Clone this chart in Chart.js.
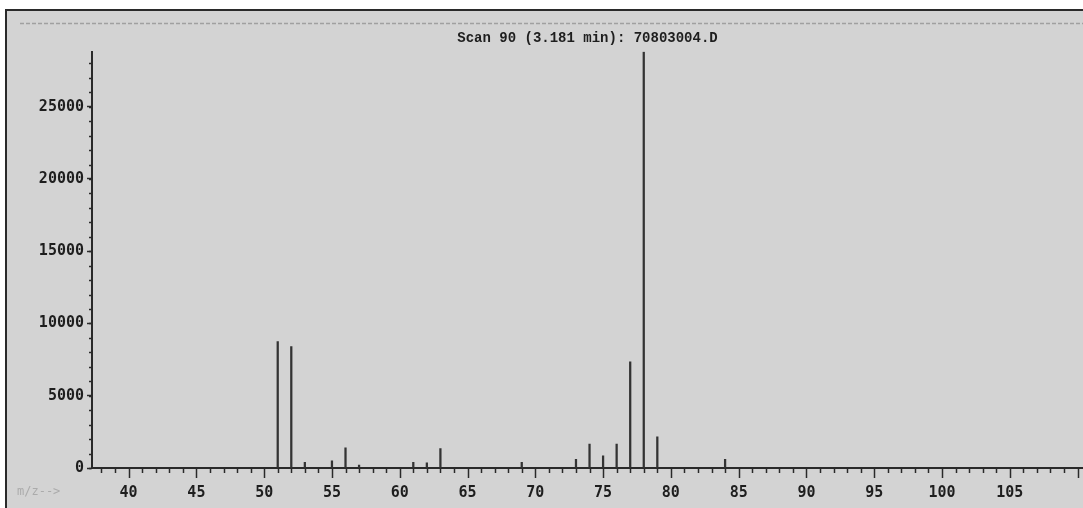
<!DOCTYPE html>
<html>
<head>
<meta charset="utf-8">
<title>Scan 90</title>
<script src="https://cdn.jsdelivr.net/npm/chart.js@4/dist/chart.umd.min.js"></script>
<style>
  html, body { margin: 0; padding: 0; background: #fff; }
  #wrap { width: 1083px; height: 508px; }
</style>
</head>
<body>
<div id="wrap"><canvas id="espectro"></canvas></div>
<script>
// Espectro de massas, scan 90

// m/z dos picos e abundancias
const mz = [51, 52, 53, 55, 56, 57, 61, 62, 63, 69, 73, 74, 75, 76, 77, 78, 79, 84];
const abundancia = [8750, 8400, 400, 500, 1400, 200, 400, 350, 1350, 400, 600, 1650, 850, 1650, 7350, 28800, 2150, 600];

// ticks com rotulo
const yTicks = [0, 5000, 10000, 15000, 20000, 25000];
const xTicks = [40, 45, 50, 55, 60, 65, 70, 75, 80, 85, 90, 95, 100, 105];

// limites dos eixos
const xMin = 37.3;
const xMax = 110.4;
const yMax = 28800;
const yMinorStep = 1000;
const xLabelStep = 5;

const titulo = 'Scan 90 (3.181 min): 70803004.D';

// fundo, moldura e marcas menores dos eixos
const moldura = {
    id: 'moldura',
    beforeDraw(chart) {
        const c = chart.ctx;
        c.save();
        c.fillStyle = '#ffffff';
        c.fillRect(0, 0, chart.width, chart.height);
        c.fillStyle = '#d3d3d3';
        c.fillRect(7, 11, chart.width - 7, chart.height - 11);
        c.strokeStyle = '#2a2a2a';
        c.lineWidth = 2;
        c.beginPath();
        c.moveTo(6, chart.height);
        c.lineTo(6, 10);
        c.lineTo(chart.width, 10);
        c.stroke();
        c.strokeStyle = '#a0a0a0';
        c.lineWidth = 1.5;
        c.setLineDash([4, 2]);
        c.beginPath();
        c.moveTo(20, 23.5);
        c.lineTo(chart.width, 23.5);
        c.stroke();
        c.setLineDash([]);
        c.fillStyle = '#ababab';
        c.font = '12px "DejaVu Sans Mono"';
        c.textBaseline = 'middle';
        c.fillText('m/z-->', 17, 492);
        c.restore();
    },
    afterDraw(chart) {
        const x = chart.scales.x;
        const y = chart.scales.y;
        const c = chart.ctx;
        const base = chart.chartArea.bottom;
        const left = chart.chartArea.left;
        c.save();
        c.strokeStyle = '#2a2a2a';
        c.lineWidth = 1.5;
        for (let v = Math.ceil(x.min); v <= Math.floor(x.max); v++) {
            const px = Math.round(x.getPixelForValue(v)) + 0.5;
            const len = v % xLabelStep === 0 ? 10 : 5;
            c.beginPath();
            c.moveTo(px, base);
            c.lineTo(px, base + len);
            c.stroke();
        }
        for (let v = 0; v <= y.max; v += yMinorStep) {
            const py = Math.round(y.getPixelForValue(v)) + 0.5;
            c.beginPath();
            c.moveTo(left - 3, py);
            c.lineTo(left, py);
            c.stroke();
        }
        c.restore();
    }
};

const fonteEixo = { family: '"DejaVu Sans Mono", monospace', size: 15, weight: 'bold' };

const ctx = document.getElementById('espectro').getContext('2d');
const graficoEspectro = new Chart(ctx, {
    type: 'bar',
    data: {
        datasets: [{
            label: 'Abundância',
            data: mz.map((m, i) => ({ x: m, y: abundancia[i] })),
            backgroundColor: '#333333',
            borderWidth: 0,
            barThickness: 1.6
        }]
    },
    options: {
        responsive: true,
        maintainAspectRatio: false,
        animation: false,
        layout: { padding: 0 },
        plugins: {
            legend: { display: false },
            tooltip: { enabled: false },
            title: {
                display: true,
                text: titulo,
                fullSize: false,
                color: '#1e1e1e',
                font: { family: '"Liberation Mono", monospace', size: 14, weight: 'bold' },
                padding: { top: 30, bottom: 5 }
            }
        },
        scales: {
            x: {
                type: 'linear',
                min: xMin,
                max: xMax,
                offset: false,
                afterBuildTicks(scale) { scale.ticks = xTicks.map(v => ({ value: v })); },
                grid: { display: true, offset: false, drawOnChartArea: false, drawTicks: false },
                border: { display: true, color: '#2a2a2a', width: 2 },
                ticks: {
                    autoSkip: false,
                    maxRotation: 0,
                    padding: 16,
                    color: '#1e1e1e',
                    font: fonteEixo,
                    callback: v => String(v)
                },
                afterFit(scale) { scale.height = 40; }
            },
            y: {
                min: 0,
                max: yMax,
                afterBuildTicks(scale) { scale.ticks = yTicks.map(v => ({ value: v })); },
                grid: { display: true, drawOnChartArea: false, drawTicks: true, tickLength: 5, color: '#2a2a2a', tickWidth: 1.5 },
                border: { display: true, color: '#2a2a2a', width: 2 },
                ticks: {
                    autoSkip: false,
                    padding: 3,
                    color: '#1e1e1e',
                    font: fonteEixo,
                    callback: v => String(v)
                },
                afterFit(scale) { scale.width = 92; }
            }
        }
    },
    plugins: [moldura]
});
</script>
</body>
</html>
